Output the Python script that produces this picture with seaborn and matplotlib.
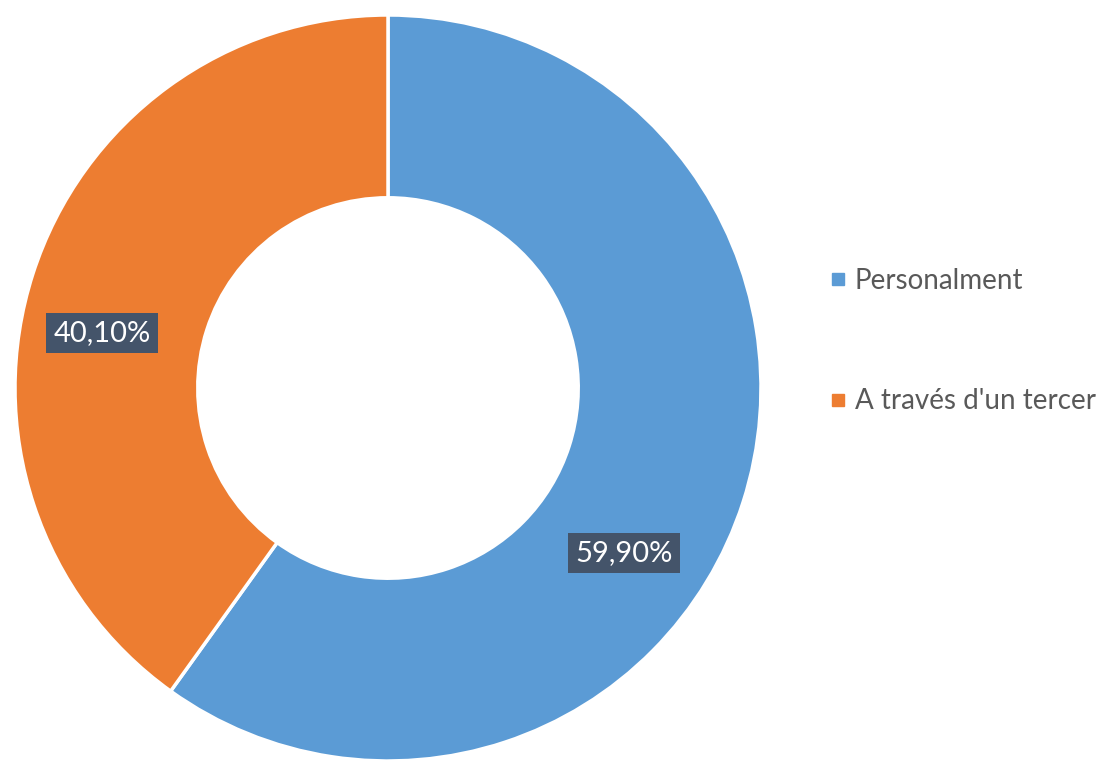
import matplotlib
matplotlib.use("Agg")
import matplotlib.pyplot as plt
from matplotlib.lines import Line2D
import seaborn as sns

# data
categories = ["Personalment", "A través d'un tercer"]
values = [59.90, 40.10]
labels = ["59,90%", "40,10%"]
colors = ["#5B9BD5", "#ED7D31"]

sns.set_theme(style="white")
plt.rcParams['font.family'] = ['Lato', 'DejaVu Sans']

fig = plt.figure(figsize=(11.15, 7.6), dpi=100)
cx, cy, R = 388, 388, 373
ax = fig.add_axes([(cx - R) / 1115, (760 - cy - R) / 760, 2 * R / 1115, 2 * R / 760])

wedges, _ = ax.pie(values, colors=colors, startangle=90, counterclock=False,
                   radius=1.0, wedgeprops=dict(width=0.49, edgecolor="white", linewidth=2.5))
ax.set_xlim(-1, 1)
ax.set_ylim(-1, 1)
ax.set_aspect("equal")
ax.axis("off")

# label positions (axes fraction)
label_pos = [(0.816, 0.279), (0.117, 0.574)]
for lab, (x, y) in zip(labels, label_pos):
    ax.text(x, y, lab, transform=ax.transAxes, ha="center", va="center",
            fontsize=21, color="white",
            bbox=dict(boxstyle="square,pad=0.25", facecolor="#44546A", edgecolor="none"))

handles = [Line2D([0], [0], marker="s", linestyle="", markersize=9,
                  markerfacecolor=c, markeredgecolor=c) for c in colors]
fig.legend(handles, categories, loc="center left", bbox_to_anchor=(816 / 1115, 0.551),
           frameon=False, fontsize=20, labelcolor="#595959", labelspacing=3.4,
           handlelength=0.6, handletextpad=0.3, borderpad=0)

fig.savefig("out.png", dpi=100)
